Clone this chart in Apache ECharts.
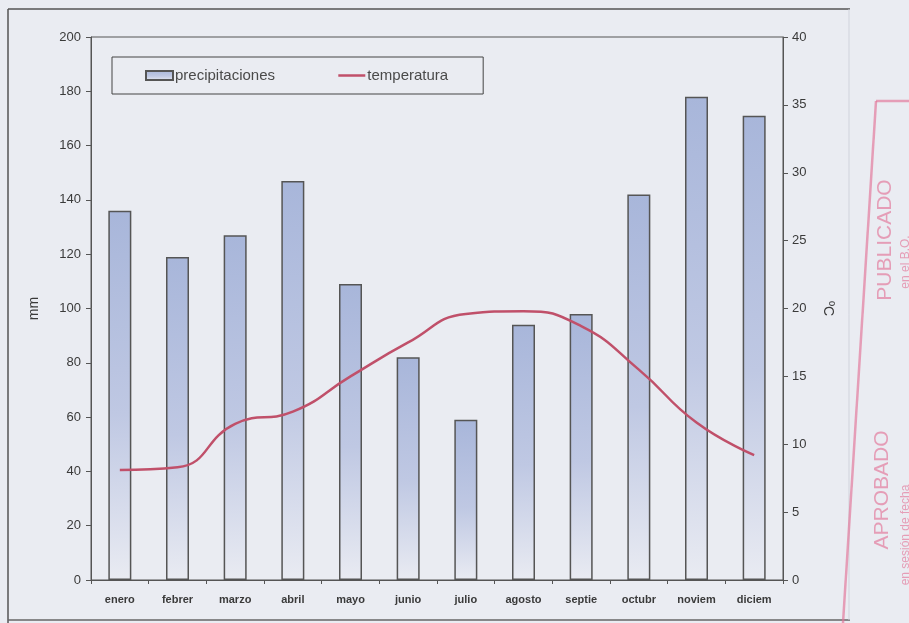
<!DOCTYPE html>
<html>
<head>
<meta charset="utf-8">
<script src="https://cdn.jsdelivr.net/npm/echarts@6/dist/echarts.min.js"></script>
<style>
html,body{margin:0;padding:0;background:#eaecf2;}
#c{width:909px;height:623px;}
</style>
</head>
<body>
<div id="c"></div>
<script>
var months = ['enero','febrer','marzo','abril','mayo','junio','julio','agosto','septie','octubr','noviem','diciem'];
var precipitaciones = [136,119,127,147,109,82,59,94,98,142,178,171];
var temperatura = [8.1,8.3,11.5,12.4,15.0,17.5,19.6,19.8,18.7,15.5,11.6,9.2];
var mmTicks = {min:0, max:200, interval:20};
var cTicks = {min:0, max:40, interval:5};

var chart = echarts.init(document.getElementById('c'), null, {renderer:'canvas'});
var txt = '#3a3a3a';
var fam = '"Liberation Sans",Arial,sans-serif';
var stampCol = 'rgba(226,115,150,0.65)';
chart.setOption({
  backgroundColor:'#eaecf2',
  animation:false,
  grid:{left:91,right:126,top:37,bottom:43,show:true,borderColor:'#555',borderWidth:1,backgroundColor:'transparent'},
  legend:{
    left:112, top:57,
    padding:[11,35,11,33],
    borderColor:'#444', borderWidth:1,
    itemGap:62, itemWidth:27, itemHeight:9,
    textStyle:{fontFamily:fam,fontSize:15,color:'#4a4a4a',padding:[0,0,0,-3]},
    data:[
      {name:'precipitaciones',icon:'rect'},
      {name:'temperatura',itemStyle:{color:'rgba(0,0,0,0)',borderWidth:0,opacity:0},lineStyle:{color:'#c0506a',width:2.5}}
    ]
  },
  xAxis:{
    type:'category', data:months, boundaryGap:true,
    axisLine:{lineStyle:{color:'#555',width:1}},
    axisTick:{show:true,length:4,lineStyle:{color:'#555'}},
    axisLabel:{color:txt,fontSize:11,fontWeight:'bold',fontFamily:fam,margin:14}
  },
  yAxis:[
    {type:'value',min:mmTicks.min,max:mmTicks.max,interval:mmTicks.interval,name:'mm',nameLocation:'middle',nameRotate:90,nameGap:50,
     nameTextStyle:{color:txt,fontSize:14,fontFamily:fam},
     axisLine:{show:true,lineStyle:{color:'#555'}},axisTick:{show:true,length:5,lineStyle:{color:'#555'}},
     splitLine:{show:false},axisLabel:{color:txt,fontSize:13,fontFamily:fam,margin:10}},
    {type:'value',min:cTicks.min,max:cTicks.max,interval:cTicks.interval,position:'right',name:'ºC',nameLocation:'middle',nameRotate:-90,nameGap:38,
     nameTextStyle:{color:txt,fontSize:14,fontFamily:fam},
     axisLine:{show:true,lineStyle:{color:'#555'}},axisTick:{show:true,length:5,lineStyle:{color:'#555'}},
     splitLine:{show:false},axisLabel:{color:txt,fontSize:13,fontFamily:fam,margin:9}}
  ],
  series:[
    {name:'precipitaciones',type:'bar',yAxisIndex:0,data:precipitaciones,barWidth:23,
     itemStyle:{borderColor:'#555',borderWidth:1.5,
       color:new echarts.graphic.LinearGradient(0,0,0,1,[{offset:0,color:'#a8b6da'},{offset:0.55,color:'#bfc8e3'},{offset:1,color:'#e9ebf2'}])}},
    {name:'temperatura',type:'line',yAxisIndex:1,data:temperatura,smooth:0.5,symbol:'none',
     lineStyle:{color:'#c0506a',width:2.5},itemStyle:{color:'#c0506a'}}
  ],
  graphic:[
    {type:'line',shape:{x1:8,y1:9,x2:850,y2:9},style:{stroke:'#555',lineWidth:1.5},silent:true},
    {type:'line',shape:{x1:8,y1:9,x2:8,y2:623},style:{stroke:'#555',lineWidth:1.5},silent:true},
    {type:'line',shape:{x1:8,y1:620,x2:850,y2:620},style:{stroke:'#666',lineWidth:1.5},silent:true},
    {type:'line',shape:{x1:849,y1:9,x2:849,y2:620},style:{stroke:'#d0d3dc',lineWidth:1},silent:true},
    {type:'line',shape:{x1:876,y1:101,x2:843,y2:623},style:{stroke:stampCol,lineWidth:2.5},silent:true},
    {type:'line',shape:{x1:876,y1:101,x2:909,y2:101},style:{stroke:stampCol,lineWidth:2.5},silent:true},
    {type:'text',x:885,y:240,rotation:Math.PI/2,style:{text:'PUBLICADO',fill:stampCol,font:'21px "Liberation Sans",Arial,sans-serif',align:'center',verticalAlign:'middle'},silent:true},
    {type:'text',x:906,y:262,rotation:Math.PI/2,style:{text:'en el B.O.',fill:stampCol,font:'12px "Liberation Sans",Arial,sans-serif',align:'center',verticalAlign:'middle'},silent:true},
    {type:'text',x:882,y:490,rotation:Math.PI/2,style:{text:'APROBADO',fill:stampCol,font:'21px "Liberation Sans",Arial,sans-serif',align:'center',verticalAlign:'middle'},silent:true},
    {type:'text',x:906,y:535,rotation:Math.PI/2,style:{text:'en sesión de fecha',fill:stampCol,font:'12px "Liberation Sans",Arial,sans-serif',align:'center',verticalAlign:'middle'},silent:true}
  ]
});
</script>
</body>
</html>
